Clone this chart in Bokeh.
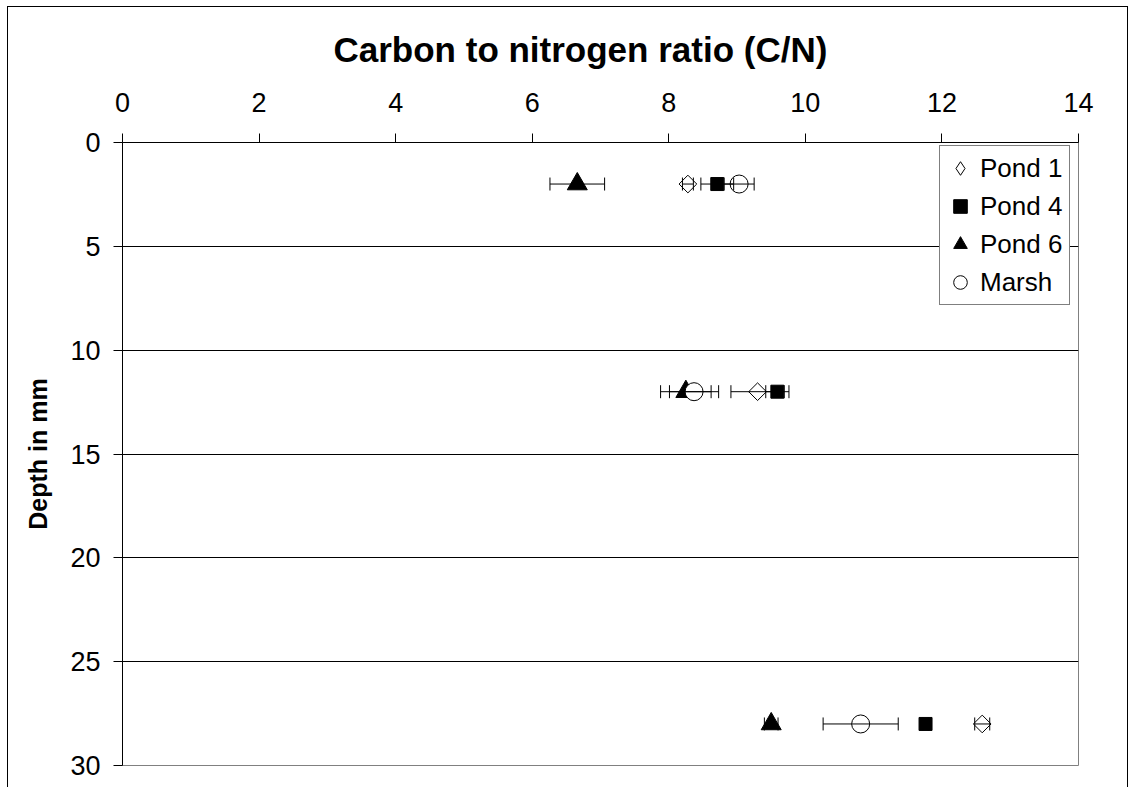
import math
from bokeh.plotting import figure
from bokeh.models import (ColumnDataSource, Whisker, TeeHead, Range1d, FixedTicker,
                          Legend, LegendItem)
from bokeh.embed import file_html
from bokeh.resources import INLINE

# ---- data ----
depths = [2, 12, 28]
pond1 = [8.28, 9.30, 12.59]
pond1_err = [0.08, 0.39, 0.11]
pond4 = [8.71, 9.59, 11.76]
pond4_err = [0.24, 0.17, 0.04]
pond6 = [6.66, 8.25, 9.50]
pond6_err = [0.40, 0.37, 0.10]
marsh = [9.03, 8.37, 10.81]
marsh_err = [0.22, 0.36, 0.55]

x_ticks = [0, 2, 4, 6, 8, 10, 12, 14]
y_ticks = [0, 5, 10, 15, 20, 25, 30]
grid_ticks = [5, 10, 15, 20, 25]

FONT = "Liberation Sans"

p = figure(width=1121, height=781,
           x_range=Range1d(0, 14), y_range=Range1d(30, 0),
           x_axis_location="above",
           output_backend="svg", toolbar_location=None,
           min_border_left=114, min_border_top=135,
           min_border_right=51, min_border_bottom=23,
           styles={"border-top": "1px solid black",
                   "border-left": "1px solid black",
                   "border-right": "1px solid black",
                   "position": "relative", "left": "7px", "top": "6px"})

p.title.text = "Carbon to nitrogen ratio (C/N)"
p.title.text_font = FONT
p.title.text_font_size = "35px"
p.title.text_font_style = "bold"
p.title.text_color = "black"
p.title.text_line_height = 1.0
p.title.align = "left"
p.title.offset = 211
p.title.standoff = 41

p.background_fill_color = "white"
p.border_fill_color = "white"
p.outline_line_color = "#808080"
p.outline_line_width = 1

p.xgrid.visible = False
p.ygrid.ticker = FixedTicker(ticks=grid_ticks)
p.ygrid.grid_line_color = "black"
p.ygrid.grid_line_width = 1

for ax in (p.xaxis[0], p.yaxis[0]):
    ax.axis_line_color = "black"
    ax.major_tick_line_color = "black"
    ax.minor_tick_line_color = None
    ax.major_tick_in = 0
    ax.major_tick_out = 9
    ax.major_label_text_font = FONT
    ax.major_label_text_font_size = "27px"
    ax.major_label_text_color = "black"

p.xaxis.ticker = FixedTicker(ticks=x_ticks)
p.xaxis.major_label_standoff = 22
p.yaxis.ticker = FixedTicker(ticks=y_ticks)
p.yaxis.major_label_standoff = 13
p.yaxis.axis_label = "Depth in mm"
p.yaxis.axis_label_text_font = FONT
p.yaxis.axis_label_text_font_size = "25px"
p.yaxis.axis_label_text_font_style = "bold"
p.yaxis.axis_label_text_color = "black"
p.yaxis.axis_label_standoff = 15

# name, values, errors, marker, angle, size, fill, legend marker
series = [
    ("Pond 1", pond1, pond1_err, "square", math.pi / 4, 12.5, "white", "diamond"),
    ("Pond 4", pond4, pond4_err, "square", 0, 13, "black", None),
    ("Pond 6", pond6, pond6_err, "triangle", 0, 20, "black", None),
    ("Marsh", marsh, marsh_err, "circle", 0, 18, "white", None),
]

sources = []
for name, vals, errs, *_ in series:
    src = ColumnDataSource(dict(
        depth=depths, val=vals,
        lo=[v - e for v, e in zip(vals, errs)],
        hi=[v + e for v, e in zip(vals, errs)]))
    sources.append(src)
    w = Whisker(source=src, base="depth", lower="lo", upper="hi",
                dimension="width", line_color="black", line_width=1,
                level="glyph",
                upper_head=TeeHead(size=13, line_color="black", line_width=1),
                lower_head=TeeHead(size=13, line_color="black", line_width=1))
    p.add_layout(w)

items = []
for (name, vals, errs, marker, ang, size, fill, lmarker), src in zip(series, sources):
    r = p.scatter(x="val", y="depth", source=src, marker=marker, angle=ang,
                  size=size, fill_color=fill, line_color="black", line_width=1)
    if lmarker is not None:
        # legend-only glyph (the legend ignores marker angle); one NaN row so
        # nothing is drawn in the plot area
        stub = ColumnDataSource(dict(val=[float("nan")], depth=[float("nan")]))
        r = p.scatter(x="val", y="depth", source=stub, marker=lmarker,
                      size=size, fill_color=fill, line_color="black", line_width=1)
    items.append(LegendItem(label=name, renderers=[r]))

legend = Legend(items=items, location=(817, 460), margin=0, padding=3,
                spacing=0, glyph_width=34, glyph_height=38, label_height=38,
                label_width=86, label_standoff=3,
                label_text_font=FONT, label_text_font_size="26px",
                label_text_color="black",
                border_line_color="black", border_line_width=1,
                background_fill_color="white", background_fill_alpha=1)
p.add_layout(legend, "center")

open("out.html", "w").write(file_html(p, INLINE))
